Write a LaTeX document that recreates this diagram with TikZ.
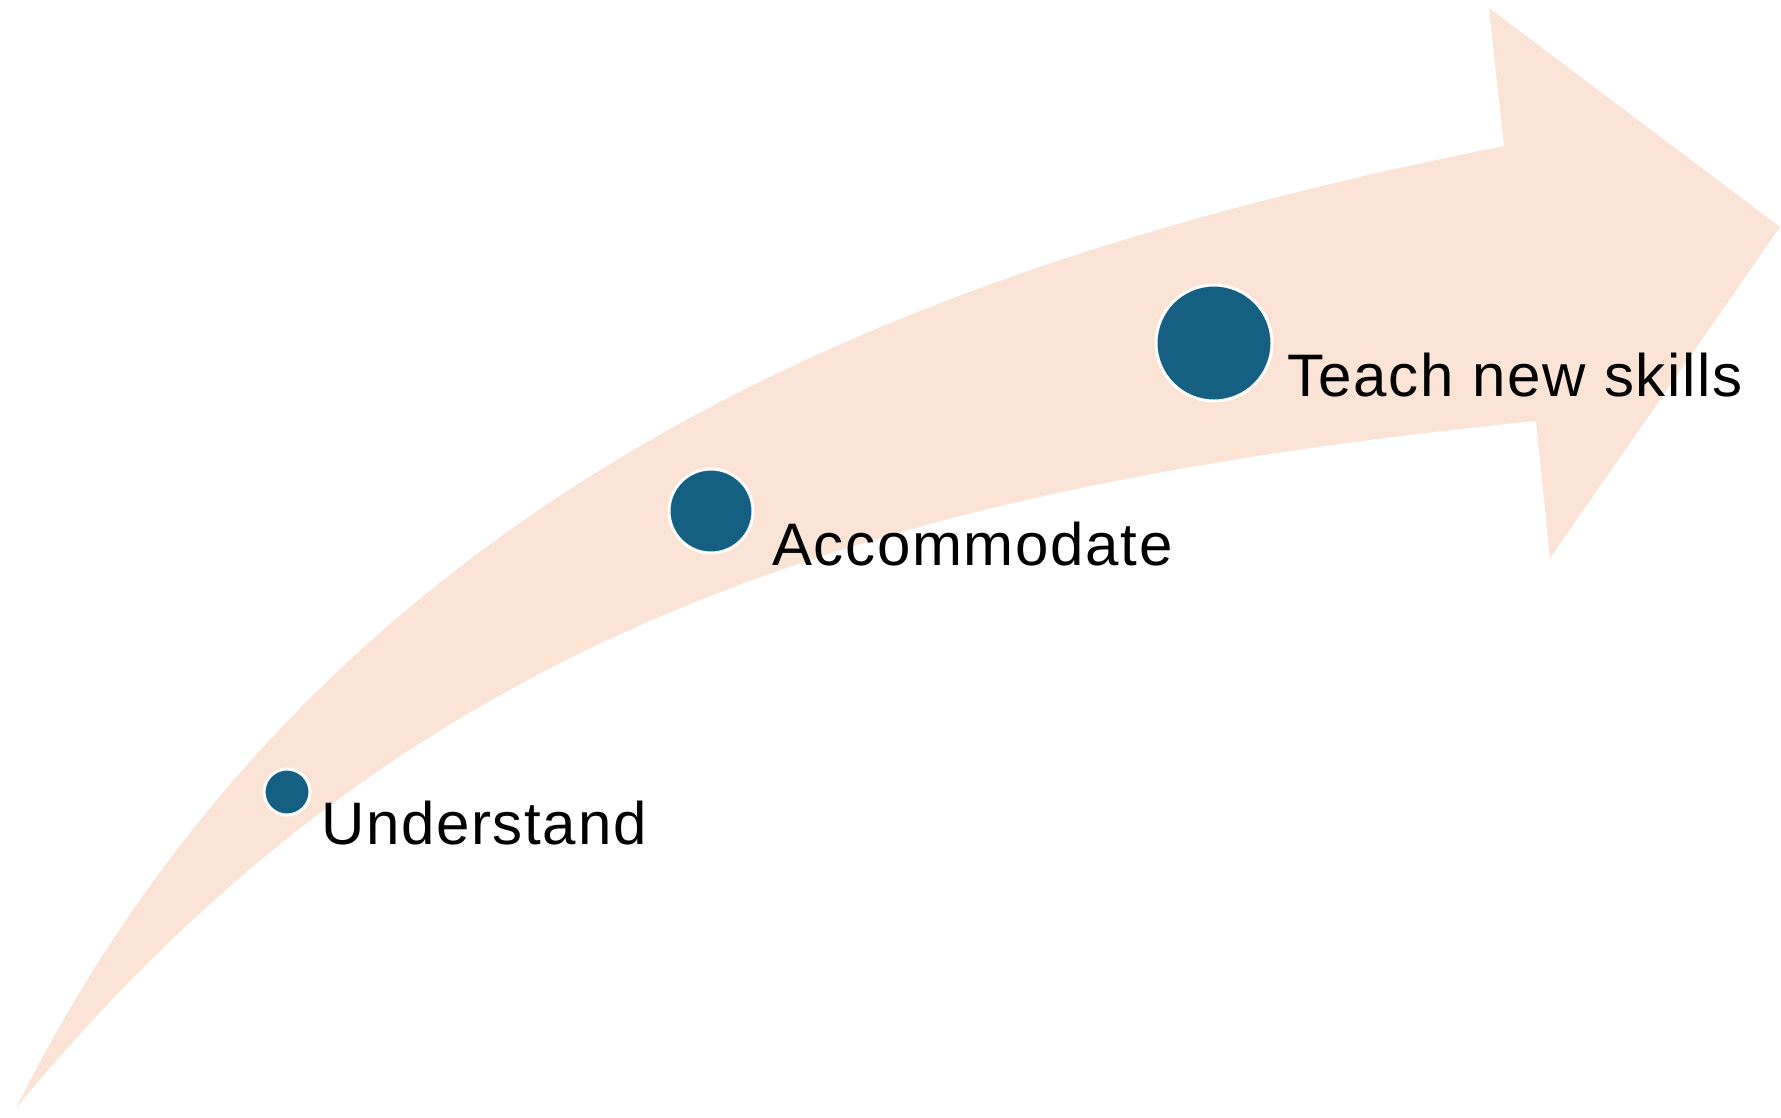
\documentclass[tikz,border=0pt]{standalone}
\usepackage{fontspec}
\setmainfont{Liberation Sans}[LetterSpace=2.8]
\definecolor{peach}{HTML}{FBE3D6}
\definecolor{dotblue}{HTML}{156082}
\begin{document}
\begin{tikzpicture}[x=1pt,y=-1pt,
  dot/.style={circle,fill=dotblue,draw=white,line width=3pt,inner sep=0pt},
  lbl/.style={anchor=base west,inner sep=0pt,font=\fontsize{60}{72}\selectfont,text=black}]
\useasboundingbox (0,0) rectangle (1781,1117);
% curved arrow
\fill[peach] (16,1108) .. controls (336,468) and (944,258) .. (1504,146)
  -- (1489,8) -- (1780,227) -- (1550,558) -- (1536,421)
  .. controls (836,491) and (396,648) .. (16,1108) -- cycle;
% dots
\node[dot,minimum size=46pt] (u) at (287,792) {};
\node[dot,minimum size=84pt] (a) at (711,511) {};
\node[dot,minimum size=116pt] (t) at (1214,343) {};
% labels
\node[lbl] (lu) at (321,844) {Understand};
\node[lbl] (la) at (772,565) {Accommodate};
\node[lbl] (lt) at (1287,396) {Teach new skills};
\end{tikzpicture}
\end{document}
